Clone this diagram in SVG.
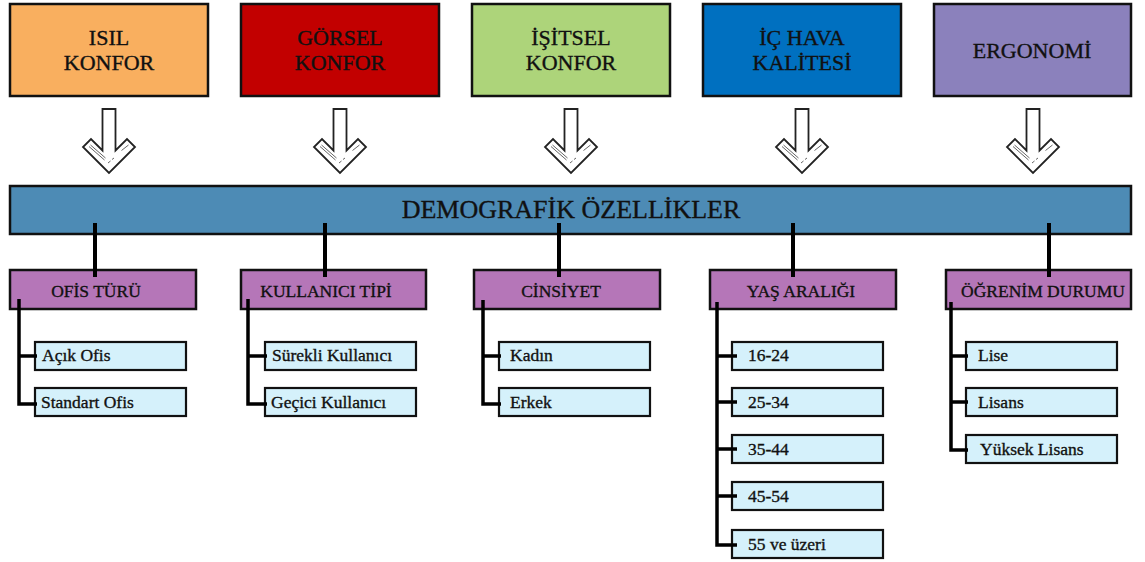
<svg xmlns="http://www.w3.org/2000/svg" width="1145" height="562" viewBox="0 0 1145 562">
<style>
text{font-family:"Liberation Serif","Times New Roman",serif;fill:#111;stroke:#111;stroke-width:0.35;}
.top{font-size:22px;text-anchor:middle;}
.bar{font-size:26px;text-anchor:middle;}
.cat{font-size:17.5px;text-anchor:middle;}
.leaf{font-size:17.5px;}
.box{stroke:#111;stroke-width:2.5;}
.cbox{fill:#B576B8;stroke:#111;stroke-width:2.5;}
.lbox{fill:#D5F1FB;stroke:#111;stroke-width:2.2;}
.con{fill:none;stroke:#000;stroke-width:4;}
.tree{fill:none;stroke:#000;stroke-width:3.5;}
.arr{fill:#fff;stroke:#222;stroke-width:1.8;stroke-linejoin:miter;}
.deco{stroke:#555;stroke-width:0.9;fill:none;}
</style>
<defs>
<g id="arrow">
<path class="arr" d="M-6.5,109 H6.5 V150.5 L18,139 L26,147 L0,173 L-26,147 L-18,139 L-6.5,150.5 Z"/>
<path class="deco" d="M-20,146.5 L-4.5,160 M-18.5,145 L-3.5,158 M-1,163 L1.5,161 M3,159.5 L5,158 M12.5,150.5 L19.5,145"/>
</g>
</defs>

<g id="isil-konfor">
<rect class="box" x="10" y="4" width="198" height="92" fill="#F9AF5F"/>
<text class="top" x="109" y="45">ISIL</text>
<text class="top" x="109" y="70">KONFOR</text>
</g>
<g id="gorsel-konfor">
<rect class="box" x="241" y="4" width="198" height="92" fill="#C20000"/>
<text class="top" x="340" y="45">GÖRSEL</text>
<text class="top" x="340" y="70">KONFOR</text>
</g>
<g id="isitsel-konfor">
<rect class="box" x="472" y="4" width="198" height="92" fill="#ADD47A"/>
<text class="top" x="571" y="45">İŞİTSEL</text>
<text class="top" x="571" y="70">KONFOR</text>
</g>
<g id="ic-hava-kalitesi">
<rect class="box" x="703" y="4" width="198" height="92" fill="#0070C0"/>
<text class="top" x="802" y="45">İÇ HAVA</text>
<text class="top" x="802" y="70">KALİTESİ</text>
</g>
<g id="ergonomi">
<rect class="box" x="934" y="4" width="197" height="92" fill="#8B81BC"/>
<text class="top" x="1032" y="58">ERGONOMİ</text>
</g>

<g id="arrows">
<use href="#arrow" transform="translate(109,0)"/>
<use href="#arrow" transform="translate(340,0)"/>
<use href="#arrow" transform="translate(571,0)"/>
<use href="#arrow" transform="translate(802,0)"/>
<use href="#arrow" transform="translate(1033,0)"/>
</g>

<g id="demografik">
<rect class="box" x="10" y="186" width="1121" height="48" fill="#4D8BB5"/>
<text class="bar" x="571" y="218">DEMOGRAFİK ÖZELLİKLER</text>
</g>

<g id="ofis-turu">
<rect class="cbox" x="10" y="270" width="186" height="39"/>
<text class="cat" x="96" y="297">OFİS TÜRÜ</text>
</g>
<g id="kullanici-tipi">
<rect class="cbox" x="241" y="270" width="185" height="39"/>
<text class="cat" x="326" y="297">KULLANICI TİPİ</text>
</g>
<g id="cinsiyet">
<rect class="cbox" x="474" y="270" width="186" height="39"/>
<text class="cat" x="561" y="297">CİNSİYET</text>
</g>
<g id="yas-araligi">
<rect class="cbox" x="710" y="270" width="186" height="39"/>
<text class="cat" x="801" y="297">YAŞ ARALIĞI</text>
</g>
<g id="ogrenim-durumu">
<rect class="cbox" x="946" y="270" width="185" height="39"/>
<text class="cat" x="1043" y="297">ÖĞRENİM DURUMU</text>
</g>

<g id="acik-ofis"><rect class="lbox" x="35" y="342" width="151" height="28"/><text class="leaf" x="42" y="361">Açık Ofis</text></g>
<g id="standart-ofis"><rect class="lbox" x="35" y="388" width="151" height="28"/><text class="leaf" x="41" y="408">Standart Ofis</text></g>
<g id="surekli-kullanici"><rect class="lbox" x="265" y="342" width="151" height="28"/><text class="leaf" x="272" y="361">Sürekli Kullanıcı</text></g>
<g id="gecici-kullanici"><rect class="lbox" x="265" y="388" width="151" height="28"/><text class="leaf" x="271" y="408">Geçici Kullanıcı</text></g>
<g id="kadin"><rect class="lbox" x="499" y="342" width="151" height="28"/><text class="leaf" x="510" y="361">Kadın</text></g>
<g id="erkek"><rect class="lbox" x="499" y="388" width="151" height="28"/><text class="leaf" x="510" y="408">Erkek</text></g>
<g id="age-16-24"><rect class="lbox" x="732" y="342" width="151" height="28"/><text class="leaf" x="748" y="361">16-24</text></g>
<g id="age-25-34"><rect class="lbox" x="732" y="388" width="151" height="28"/><text class="leaf" x="748" y="408">25-34</text></g>
<g id="age-35-44"><rect class="lbox" x="732" y="435" width="151" height="28"/><text class="leaf" x="748" y="455">35-44</text></g>
<g id="age-45-54"><rect class="lbox" x="732" y="482" width="151" height="28"/><text class="leaf" x="748" y="502">45-54</text></g>
<g id="age-55"><rect class="lbox" x="732" y="530" width="151" height="28"/><text class="leaf" x="748" y="550">55 ve üzeri</text></g>
<g id="lise"><rect class="lbox" x="966" y="342" width="151" height="28"/><text class="leaf" x="978" y="361">Lise</text></g>
<g id="lisans"><rect class="lbox" x="966" y="388" width="151" height="28"/><text class="leaf" x="978" y="408">Lisans</text></g>
<g id="yuksek-lisans"><rect class="lbox" x="966" y="435" width="151" height="28"/><text class="leaf" x="980" y="455">Yüksek Lisans</text></g>

<g id="connectors">
<path class="con" d="M95,223 V277 M325,223 V277 M559,223 V277 M793,223 V277 M1049,223 V277"/>
<path class="tree" d="M19,299 V404 H37 M19,356 H37"/>
<path class="tree" d="M248,299 V404 H267 M248,356 H267"/>
<path class="tree" d="M483,300 V404 H501 M483,356 H501"/>
<path class="tree" d="M717,302 V545 H737 M717,356 H737 M717,402 H737 M717,449 H737 M717,496 H737"/>
<path class="tree" d="M951,302 V450 H968 M951,356 H968 M951,402 H968"/>
</g>
</svg>
